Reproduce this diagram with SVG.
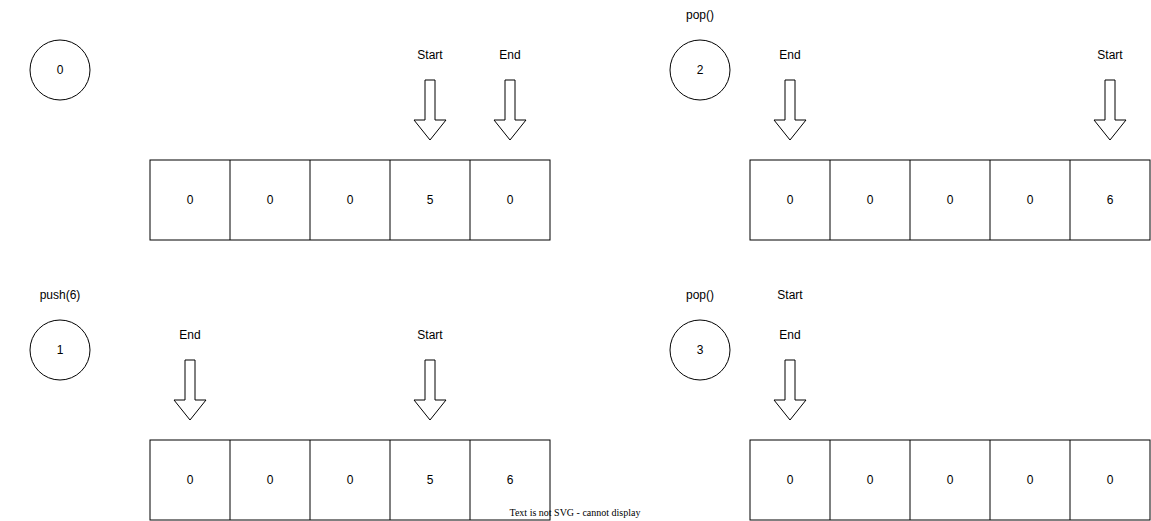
<svg xmlns="http://www.w3.org/2000/svg" width="1151" height="521" viewBox="0 0 1151 521">
  <defs>
    <style>
      .shape { fill: #ffffff; stroke: #000000; stroke-width: 1; }
      .lbl { font-family: "Liberation Sans", Arial, Helvetica, sans-serif; font-size: 12px; fill: #000000; text-anchor: middle; dominant-baseline: central; }
      .warn { font-family: "Liberation Serif", "Times New Roman", serif; font-size: 10px; fill: #000000; text-anchor: middle; }
    </style>
    <!-- hollow down arrow, tip at (0,0) -->
    <path id="down" d="M -5 -60 L 5 -60 L 5 -20 L 16 -20 L 0 0 L -16 -20 L -5 -20 Z"/>
    <!-- one row of five cells, 80x80 each -->
    <g id="row">
      <rect x="0" y="0" width="400" height="80"/>
      <line x1="80" y1="0" x2="80" y2="80"/>
      <line x1="160" y1="0" x2="160" y2="80"/>
      <line x1="240" y1="0" x2="240" y2="80"/>
      <line x1="320" y1="0" x2="320" y2="80"/>
    </g>
  </defs>
  <rect width="1151" height="521" fill="#ffffff"/>

  <!-- step 0 -->
  <g id="step0">
    <circle class="shape" cx="60" cy="70" r="30"/>
    <text class="lbl" x="60" y="70">0</text>
  </g>
  <g id="array0" class="shape">
    <use href="#row" x="150" y="160"/>
  </g>
  <g id="array0-values">
    <text class="lbl" x="190" y="200">0</text>
    <text class="lbl" x="270" y="200">0</text>
    <text class="lbl" x="350" y="200">0</text>
    <text class="lbl" x="430" y="200">5</text>
    <text class="lbl" x="510" y="200">0</text>
  </g>
  <g id="ptr0-start">
    <text class="lbl" x="430" y="55">Start</text>
  </g>
  <g id="ptr0-end">
    <text class="lbl" x="510" y="55">End</text>
  </g>

  <!-- step 1 -->
  <g id="step1">
    <text class="lbl" x="60" y="295">push(6)</text>
    <circle class="shape" cx="60" cy="350" r="30"/>
    <text class="lbl" x="60" y="350">1</text>
  </g>
  <g id="array1" class="shape">
    <use href="#row" x="150" y="440"/>
  </g>
  <g id="array1-values">
    <text class="lbl" x="190" y="480">0</text>
    <text class="lbl" x="270" y="480">0</text>
    <text class="lbl" x="350" y="480">0</text>
    <text class="lbl" x="430" y="480">5</text>
    <text class="lbl" x="510" y="480">6</text>
  </g>
  <g id="ptr1-end">
    <text class="lbl" x="190" y="335">End</text>
  </g>
  <g id="ptr1-start">
    <text class="lbl" x="430" y="335">Start</text>
  </g>

  <!-- step 2 -->
  <g id="step2">
    <text class="lbl" x="700" y="15">pop()</text>
    <circle class="shape" cx="700" cy="70" r="30"/>
    <text class="lbl" x="700" y="70">2</text>
  </g>
  <g id="array2" class="shape">
    <use href="#row" x="750" y="160"/>
  </g>
  <g id="array2-values">
    <text class="lbl" x="790" y="200">0</text>
    <text class="lbl" x="870" y="200">0</text>
    <text class="lbl" x="950" y="200">0</text>
    <text class="lbl" x="1030" y="200">0</text>
    <text class="lbl" x="1110" y="200">6</text>
  </g>
  <g id="ptr2-end">
    <text class="lbl" x="790" y="55">End</text>
  </g>
  <g id="ptr2-start">
    <text class="lbl" x="1110" y="55">Start</text>
  </g>

  <!-- step 3 -->
  <g id="step3">
    <text class="lbl" x="700" y="295">pop()</text>
    <circle class="shape" cx="700" cy="350" r="30"/>
    <text class="lbl" x="700" y="350">3</text>
  </g>
  <g id="array3" class="shape">
    <use href="#row" x="750" y="440"/>
  </g>
  <g id="array3-values">
    <text class="lbl" x="790" y="480">0</text>
    <text class="lbl" x="870" y="480">0</text>
    <text class="lbl" x="950" y="480">0</text>
    <text class="lbl" x="1030" y="480">0</text>
    <text class="lbl" x="1110" y="480">0</text>
  </g>
  <g id="ptr3">
    <text class="lbl" x="790" y="295">Start</text>
    <text class="lbl" x="790" y="335">End</text>
  </g>

  <!-- pointer arrows -->
  <g id="connectors" class="shape">
    <use href="#down" x="430" y="140"/>
    <use href="#down" x="510" y="140"/>
    <use href="#down" x="190" y="420"/>
    <use href="#down" x="430" y="420"/>
    <use href="#down" x="790" y="140"/>
    <use href="#down" x="1110" y="140"/>
    <use href="#down" x="790" y="420"/>
  </g>

  <text class="warn" x="575" y="516">Text is not SVG - cannot display</text>
</svg>
